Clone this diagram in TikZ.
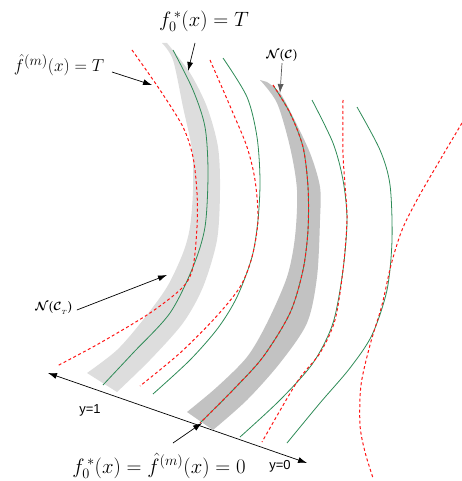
\documentclass[tikz,border=0pt]{standalone}
\usepackage{amsmath,amssymb}
\usepackage{fontspec}
\newfontfamily\axisfont{Liberation Sans}
\usetikzlibrary{arrows.meta, positioning}
\definecolor{bandlight}{RGB}{221,221,221}
\definecolor{banddark}{RGB}{194,194,194}
\definecolor{contourgreen}{RGB}{46,139,87}
\definecolor{contourred}{RGB}{255,20,20}
\tikzset{
  truecurve/.style={contourgreen, line width=0.8pt},
  estcurve/.style={contourred, dash pattern=on 3pt off 2.5pt, line width=1pt},
  pointer/.style={-{Latex[length=9pt,width=6pt]}, line width=0.7pt},
  mathlabel/.style={font=\fontsize{19}{24}\selectfont, inner sep=1pt},
  nlabel/.style={font=\fontsize{12}{14}\selectfont, inner sep=1pt},
  axislabel/.style={font=\axisfont\fontsize{13}{15}\selectfont, inner sep=1pt}
}
\begin{document}
\begin{tikzpicture}[x=1pt, y=-1pt]
\useasboundingbox (0,0) rectangle (462,481);
% axis (drawn first, the bands cover it)
\coordinate (yone) at (48,373);
\coordinate (yzero) at (307,463);
\draw[{Latex[length=9pt,width=6pt]}-{Latex[length=9pt,width=6pt]}, line width=0.7pt] (yone) -- (yzero);
% Bands
\fill[bandlight] plot[smooth] coordinates {(162,43) (173,60) (183,107) (192,150) (193,190) (190,227) (183,253) (167,287) (143,320) (117,350) (87,373)}
  -- (117,392)
  -- plot[smooth] coordinates {(117,392) (150,360) (183,323) (203,287) (217,240) (220,190) (218,147) (207,107) (190,73) (167,43)}
  -- cycle;
\fill[banddark] plot[smooth] coordinates {(260,80) (277,103) (290,147) (297,190) (295,237) (287,277) (267,323) (247,357) (217,387) (187,412)}
  -- (213,430)
  -- plot[smooth] coordinates {(213,430) (247,400) (280,363) (307,323) (317,277) (320,220) (320,187) (310,153) (293,117) (280,93) (267,82)}
  -- cycle;
% Contours
\draw[truecurve] plot[smooth] coordinates {(173,50) (193,90) (205,127) (208,173) (205,227) (193,267) (170,313) (133,353) (103,385)};
\draw[estcurve] plot[smooth] coordinates {(132,50) (160,90) (183,127) (193,157) (197,193) (197,227) (193,267) (183,287) (150,313) (100,343) (57,366)};
\draw[truecurve] plot[smooth] coordinates {(223,58) (247,97) (257,137) (260,180) (258,220) (252,257) (237,297) (218,328) (190,360) (153,394)};
\draw[estcurve] plot[smooth] coordinates {(210,60) (233,113) (247,147) (255,180) (258,220) (252,257) (240,287) (215,318) (180,353) (140,386)};
\draw[truecurve] plot[smooth] coordinates {(273,85) (290,113) (303,147) (308,187) (308,230) (303,270) (290,313) (263,357) (233,390) (200,423)};
\draw[estcurve] plot[smooth] coordinates {(273,85) (290,113) (303,147) (308,187) (308,230) (303,270) (290,313) (263,357) (233,390) (200,423)};
\draw[truecurve] plot[smooth] coordinates {(312,100) (333,143) (343,180) (347,220) (343,270) (333,323) (313,363) (280,400) (240,437)};
\draw[estcurve] plot[smooth] coordinates {(343,100) (343,153) (345,185) (347,220) (343,270) (335,320) (320,353) (297,382) (262,442)};
\draw[truecurve] plot[smooth] coordinates {(357,107) (380,150) (390,185) (392,240) (387,290) (372,335) (350,368) (320,403) (287,443)};
\draw[estcurve] plot[smooth] coordinates {(462,123) (440,160) (418,198) (402,230) (391,265) (382,305) (370,345) (361,385) (360,425) (365,452) (373,478)};
% Labels
\node[mathlabel, font=\fontsize{21}{24}\selectfont] (fstarT) at (204,21) {$f_0^{\,*}(x) = T$};
\node[mathlabel] (fhatT) at (59,65) {$\hat{f}^{(m)}(x) = T$};
\node[nlabel] (nc) at (282,56) {$\boldsymbol{\mathcal{N}(\mathcal{C})}$};
\node[nlabel] (nct) at (54,308) {$\boldsymbol{\mathcal{N}(\mathcal{C}}_{\scriptscriptstyle T}\boldsymbol{)}$};
\node[mathlabel, font=\fontsize{22.5}{24}\selectfont] (fzero) at (159,466) {$f_0^{\,*}(x) = \hat{f}^{(m)}(x) = 0$};
\node[axislabel] (yonelbl) at (90,410) {y=1};
\node[axislabel] (yzerolbl) at (280,466) {y=0};
% Pointers
\coordinate (fstarTtip) at (188,71);
\coordinate (fhatTtip) at (152,85);
\coordinate (nctip) at (280,93);
\coordinate (ncttip) at (167,275);
\coordinate (fzerotip) at (202,423);
\draw[pointer] (195,43) -- (fstarTtip);
\draw[pointer] (112,72) -- (fhatTtip);
\draw[pointer, black!65] (nc.south) -- (nctip);
\draw[pointer] (nct.east) ++(3,2) -- (ncttip);
\draw[pointer] (173,443) -- (fzerotip);
\end{tikzpicture}
\end{document}
